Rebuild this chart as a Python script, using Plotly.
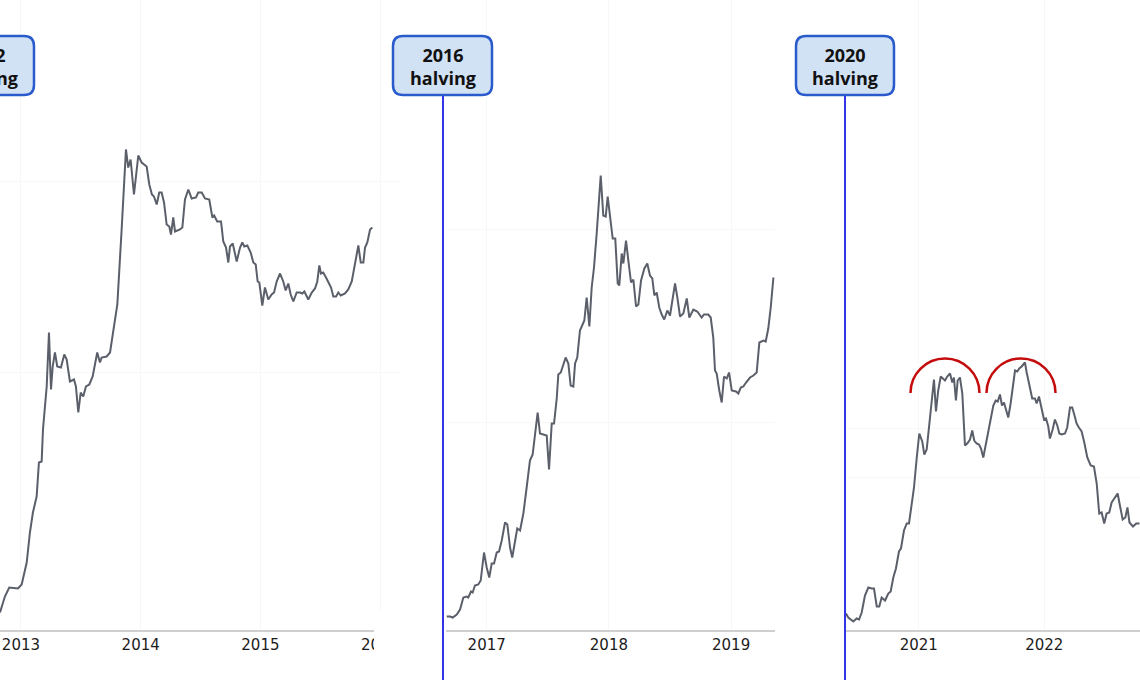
import plotly.graph_objects as go

W, H = 1140, 694

# ---------------- data (decimal year, relative price level) ----------------
years_2012 = [2012.825, 2012.866, 2012.902, 2012.975, 2013.006, 2013.048, 2013.075, 2013.100, 2013.131, 2013.150,
              2013.173, 2013.184, 2013.215, 2013.234, 2013.251, 2013.265, 2013.284, 2013.303, 2013.334, 2013.362,
              2013.382, 2013.409, 2013.443, 2013.459, 2013.479, 2013.499, 2013.520, 2013.543, 2013.571, 2013.599,
              2013.637, 2013.660, 2013.674, 2013.716, 2013.744, 2013.771, 2013.805, 2013.841, 2013.877, 2013.896,
              2013.916, 2013.944, 2013.980, 2014.008, 2014.050, 2014.072, 2014.094, 2014.111, 2014.134, 2014.155,
              2014.175, 2014.195, 2014.217, 2014.239, 2014.253, 2014.272, 2014.287, 2014.328, 2014.348, 2014.370,
              2014.398, 2014.426, 2014.462, 2014.481, 2014.510, 2014.537, 2014.573, 2014.599, 2014.614, 2014.639,
              2014.671, 2014.690, 2014.713, 2014.732, 2014.746, 2014.769, 2014.802, 2014.830, 2014.849, 2014.866,
              2014.891, 2014.919, 2014.941, 2014.961, 2014.977, 2014.991, 2015.016, 2015.038, 2015.066, 2015.094,
              2015.114, 2015.136, 2015.164, 2015.191, 2015.211, 2015.233, 2015.253, 2015.275, 2015.303, 2015.331,
              2015.350, 2015.367, 2015.400, 2015.429, 2015.456, 2015.475, 2015.492, 2015.506, 2015.525, 2015.548,
              2015.567, 2015.590, 2015.609, 2015.632, 2015.651, 2015.671, 2015.707, 2015.734, 2015.763, 2015.790,
              2015.818, 2015.838, 2015.860, 2015.874, 2015.893, 2015.916, 2015.935]
level_2012 = [17, 33, 42, 41, 45, 67, 97, 117, 133, 167,
              168, 200, 243, 297, 240, 263, 277, 263, 262, 275,
              270, 248, 250, 243, 217, 237, 233, 243, 245, 253,
              277, 267, 272, 273, 277, 300, 325, 400, 480, 462,
              470, 435, 474, 467, 463, 445, 435, 433, 425, 437,
              437, 427, 405, 403, 395, 412, 398, 400, 402, 430,
              440, 431, 432, 437, 437, 431, 430, 412, 414, 408,
              408, 388, 382, 367, 383, 386, 368, 382, 387, 383,
              384, 377, 367, 365, 348, 347, 324, 342, 330, 335,
              337, 348, 356, 348, 339, 346, 335, 328, 337, 337,
              336, 338, 330, 337, 341, 348, 364, 356, 357, 352,
              347, 342, 333, 333, 337, 334, 336, 340, 348, 365,
              384, 367, 367, 382, 387, 400, 402]

years_2016 = [2016.673, 2016.700, 2016.722, 2016.755, 2016.782, 2016.809, 2016.836, 2016.849, 2016.872, 2016.885,
              2016.904, 2016.931, 2016.951, 2016.978, 2017.000, 2017.021, 2017.041, 2017.060, 2017.082, 2017.101,
              2017.123, 2017.150, 2017.169, 2017.191, 2017.209, 2017.232, 2017.250, 2017.273, 2017.300, 2017.327,
              2017.354, 2017.376, 2017.395, 2017.417, 2017.436, 2017.463, 2017.491, 2017.510, 2017.532, 2017.551,
              2017.573, 2017.586, 2017.606, 2017.646, 2017.668, 2017.687, 2017.709, 2017.723, 2017.741, 2017.763,
              2017.786, 2017.799, 2017.818, 2017.840, 2017.859, 2017.878, 2017.900, 2017.933, 2017.954, 2017.974,
              2017.990, 2018.009, 2018.031, 2018.052, 2018.072, 2018.085, 2018.105, 2018.118, 2018.140, 2018.159,
              2018.181, 2018.200, 2018.222, 2018.241, 2018.263, 2018.290, 2018.314, 2018.336, 2018.355, 2018.372,
              2018.391, 2018.412, 2018.432, 2018.453, 2018.478, 2018.500, 2018.519, 2018.541, 2018.560, 2018.582,
              2018.609, 2018.637, 2018.658, 2018.691, 2018.723, 2018.740, 2018.759, 2018.778, 2018.813, 2018.833,
              2018.854, 2018.868, 2018.882, 2018.903, 2018.923, 2018.942, 2018.964, 2018.983, 2019.005, 2019.040,
              2019.059, 2019.079, 2019.100, 2019.122, 2019.155, 2019.182, 2019.209, 2019.231, 2019.264, 2019.283,
              2019.304, 2019.324, 2019.346]
level_2016 = [13, 13, 12, 15, 20, 32, 33, 32, 38, 37,
              44, 45, 49, 77, 62, 52, 66, 66, 77, 78,
              89, 107, 105, 82, 72, 89, 101, 99, 116, 142,
              169, 175, 196, 217, 196, 195, 194, 160, 206, 206,
              231, 255, 257, 272, 266, 244, 243, 266, 272, 299,
              306, 309, 332, 303, 342, 362, 396, 454, 414, 413,
              433, 414, 391, 391, 346, 344, 376, 366, 389, 369,
              347, 350, 323, 325, 349, 361, 366, 354, 351, 334,
              337, 322, 315, 310, 319, 314, 330, 346, 332, 313,
              316, 331, 312, 320, 318, 315, 312, 315, 315, 312,
              292, 259, 256, 239, 227, 253, 251, 257, 239, 238,
              236, 242, 243, 247, 252, 254, 257, 287, 289, 288,
              301, 322, 352]

years_2020 = [2020.420, 2020.438, 2020.478, 2020.505, 2020.524, 2020.545, 2020.571, 2020.598, 2020.625, 2020.643,
              2020.665, 2020.685, 2020.704, 2020.731, 2020.757, 2020.776, 2020.797, 2020.818, 2020.842, 2020.858,
              2020.882, 2020.904, 2020.922, 2020.943, 2020.962, 2020.983, 2021.004, 2021.028, 2021.044, 2021.063,
              2021.084, 2021.103, 2021.121, 2021.137, 2021.155, 2021.175, 2021.195, 2021.209, 2021.227, 2021.249,
              2021.267, 2021.280, 2021.296, 2021.310, 2021.328, 2021.347, 2021.368, 2021.386, 2021.408, 2021.426,
              2021.442, 2021.461, 2021.480, 2021.496, 2021.514, 2021.541, 2021.567, 2021.594, 2021.613, 2021.629,
              2021.647, 2021.663, 2021.679, 2021.695, 2021.713, 2021.732, 2021.753, 2021.767, 2021.785, 2021.801,
              2021.820, 2021.846, 2021.860, 2021.873, 2021.886, 2021.904, 2021.926, 2021.939, 2021.958, 2021.979,
              2021.998, 2022.014, 2022.032, 2022.045, 2022.067, 2022.085, 2022.104, 2022.120, 2022.139, 2022.165,
              2022.183, 2022.205, 2022.223, 2022.239, 2022.258, 2022.276, 2022.298, 2022.319, 2022.343, 2022.370,
              2022.396, 2022.418, 2022.438, 2022.457, 2022.478, 2022.497, 2022.518, 2022.537, 2022.563, 2022.585,
              2022.603, 2022.625, 2022.646, 2022.663, 2022.679, 2022.707, 2022.733, 2022.759]
level_2020 = [16, 12, 8, 11, 10, 17, 34, 42, 41, 41,
              23, 23, 32, 29, 36, 38, 52, 61, 78, 81,
              99, 106, 106, 126, 142, 171, 196, 188, 175, 180,
              205, 231, 250, 218, 239, 253, 251, 249, 253, 256,
              247, 252, 229, 249, 252, 236, 184, 186, 190, 199,
              189, 186, 185, 181, 172, 189, 209, 224, 229, 228,
              235, 224, 227, 221, 212, 226, 247, 259, 258, 261,
              263, 267, 257, 249, 242, 231, 231, 226, 233, 221,
              210, 211, 203, 191, 200, 210, 204, 196, 195, 196,
              202, 222, 222, 215, 206, 202, 198, 187, 172, 164,
              163, 146, 116, 117, 106, 116, 117, 127, 132, 136,
              124, 110, 112, 122, 107, 103, 106, 106]

ticks_2012 = [2013, 2014, 2015, 2016]
ticks_2016 = [2017, 2018, 2019]
ticks_2020 = [2021, 2022]
halving_labels = ["2012<br>halving", "2016<br>halving", "2020<br>halving"]

# ---------------- layout geometry (pixels) ----------------
BASE = 629.5
panels = [
    dict(px=(0, 400), rng=(2012.825, 2016.166), x=years_2012, y=level_2012, ticks=ticks_2012, grid=[257, 448]),
    dict(px=(446, 775), rng=(2016.667, 2019.359), x=years_2016, y=level_2016, ticks=ticks_2016, grid=[207, 400]),
    dict(px=(845, 1140), rng=(2020.412, 2022.763), x=years_2020, y=level_2020, ticks=ticks_2020, grid=[152, 201]),
]
boxes = [(-65, 36, 34, 95), (393, 36, 492, 95), (796, 36, 894, 95)]
halving_px = [None, 443, 845]
arcs = [(945, 393, 34.5), (1021, 393, 34.5)]


def px_x(p):
    return p / W


def px_y(p):
    return 1 - p / H


def P(x, y):
    return f"{px_x(x):.5f},{px_y(y):.5f}"


def rounded_box(x0, y0, x1, y1, r):
    return (f"M {P(x0 + r, y0)} L {P(x1 - r, y0)} Q {P(x1, y0)} {P(x1, y0 + r)} "
            f"L {P(x1, y1 - r)} Q {P(x1, y1)} {P(x1 - r, y1)} L {P(x0 + r, y1)} "
            f"Q {P(x0, y1)} {P(x0, y1 - r)} L {P(x0, y0 + r)} Q {P(x0, y0)} {P(x0 + r, y0)} Z")


def upper_arc(cx, cy, r):
    k = 0.5523 * r
    return (f"M {P(cx - r, cy)} C {P(cx - r, cy - k)} {P(cx - k, cy - r)} {P(cx, cy - r)} "
            f"C {P(cx + k, cy - r)} {P(cx + r, cy - k)} {P(cx + r, cy)}")


fig = go.Figure()
layout = dict(width=W, height=H, margin=dict(l=0, r=0, t=0, b=0),
              paper_bgcolor="white", plot_bgcolor="white", showlegend=False)

for i, p in enumerate(panels):
    sfx = "" if i == 0 else str(i + 1)
    fig.add_trace(go.Scatter(x=p["x"], y=p["y"], mode="lines",
                             line=dict(color="#5b5f6a", width=2),
                             xaxis="x" + sfx, yaxis="y" + sfx, hoverinfo="skip"))
    layout["xaxis" + sfx] = dict(
        domain=[px_x(p["px"][0]), px_x(p["px"][1])], range=list(p["rng"]),
        anchor="y" + sfx, tickvals=p["ticks"], ticktext=[str(t) for t in p["ticks"]],
        showline=True, linecolor="#cfcfcf", linewidth=2, ticks="",
        showgrid=True, gridcolor="#f7f7f7", gridwidth=1, zeroline=False,
        tickfont=dict(family="DejaVu Sans", size=15, color="#1c1c1c"),
        fixedrange=True)
    layout["yaxis" + sfx] = dict(
        domain=[(H - BASE) / H, 1], range=[0, BASE], anchor="x" + sfx,
        tickvals=p["grid"], showticklabels=False, showgrid=True, gridcolor="#f8f8f8",
        zeroline=False, showline=False, ticks="", fixedrange=True)

shapes = []
# clip the cut-off last tick label of the first panel (cropped picture edge)
shapes.append(dict(type="rect", xref="paper", yref="paper", x0=px_x(374), x1=px_x(425),
                   y0=px_y(668), y1=px_y(612), fillcolor="white", line=dict(width=0), layer="above"))
for hx in halving_px:
    if hx is None:
        continue
    shapes.append(dict(type="line", xref="paper", yref="paper", x0=px_x(hx), x1=px_x(hx),
                       y0=px_y(95), y1=px_y(680), line=dict(color="#3333e8", width=2), layer="above"))
for (x0, y0, x1, y1) in boxes:
    shapes.append(dict(type="path", xref="paper", yref="paper", path=rounded_box(x0, y0, x1, y1, 10),
                       fillcolor="#d2e2f5", line=dict(color="#2a5bcc", width=2.5), layer="above"))
for (cx, cy, r) in arcs:
    shapes.append(dict(type="path", xref="paper", yref="paper", path=upper_arc(cx, cy, r),
                       line=dict(color="#c40c0c", width=2.5), layer="above"))
layout["shapes"] = shapes

annotations = []
for (x0, y0, x1, y1), lab in zip(boxes, halving_labels):
    a, b = lab.split("<br>")
    annotations.append(dict(xref="paper", yref="paper", x=px_x((x0 + x1) / 2), y=px_y((y0 + y1) / 2 + 0.5),
                            xanchor="center", yanchor="middle", showarrow=False,
                            text=f"<b>{a}</b><br><b>{b}</b>",
                            font=dict(family="Open Sans", size=18, color="#111111")))
layout["annotations"] = annotations

fig.update_layout(**layout)
fig.write_html("out.html", config={"staticPlot": True},
               post_script="document.body.style.margin='0';document.body.style.overflow='hidden';")
